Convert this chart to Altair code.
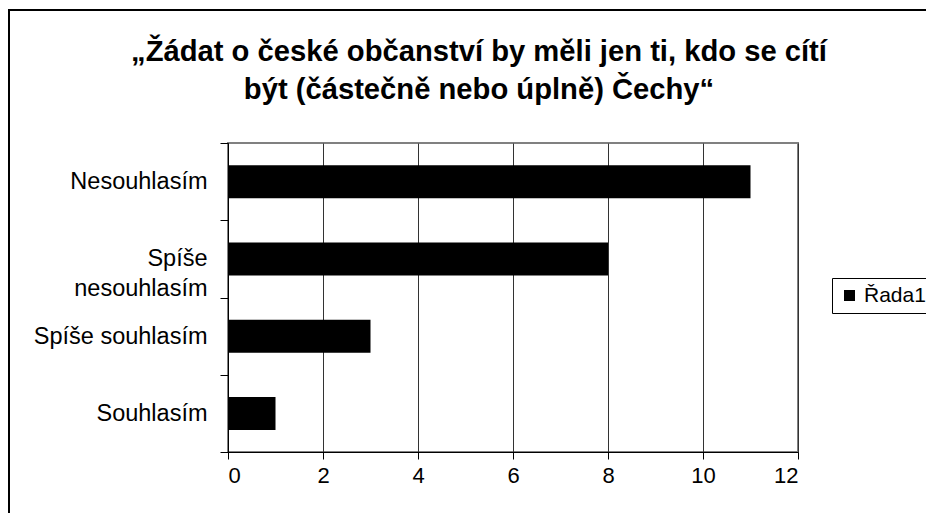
import altair as alt
import pandas as pd

# ---- data ----
categories = ["Nesouhlasím", "Spíše nesouhlasím", "Spíše souhlasím", "Souhlasím"]
values = [11, 8, 3, 1]
series_name = "Řada1"
x_ticks = [0, 2, 4, 6, 8, 10, 12]
title_lines = [
    "„Žádat o české občanství by měli jen ti, kdo se cítí",
    "být (částečně nebo úplně) Čechy“",
]

df = pd.DataFrame({
    "kategorie": categories,
    "hodnota": values,
    "rada": [series_name] * len(categories),
})

FONT = "Liberation Sans"
nb = "\u00a0" * 6
label_expr = (
    "datum.value == 'Spíše nesouhlasím' ? ['Spíše" + nb + "', 'nesouhlasím'] : datum.label"
)

PLOT_W, PLOT_H = 570, 309

# outer chart frame (decoration)
border = alt.Chart(pd.DataFrame({"a": [0]})).mark_rect(
    fill="transparent", stroke="black", strokeWidth=2, clip=False
).encode(
    x=alt.value(-219), x2=alt.value(1200), y=alt.value(-133), y2=alt.value(1200)
)

bars = alt.Chart(df).mark_bar(color="black", size=33).encode(
    y=alt.Y(
        "kategorie:N",
        sort=categories,
        title=None,
        scale=alt.Scale(paddingInner=0, paddingOuter=0),
        axis=alt.Axis(
            labelExpr=label_expr,
            tickBand="extent",
            labelFontSize=23.5,
            labelFont=FONT,
            labelColor="black",
            labelPadding=13,
            tickSize=8,
            tickColor="black",
            domainColor="black",
            grid=False,
            labelLineHeight=30,
            labelLimit=400,
        ),
    ),
    x=alt.X(
        "hodnota:Q",
        title=None,
        scale=alt.Scale(domain=[0, 12], nice=False),
        axis=alt.Axis(
            values=x_ticks,
            grid=True,
            gridColor="#333333",
            gridWidth=1,
            labelFontSize=22,
            labelFont=FONT,
            labelColor="black",
            labelPadding=6,
            tickSize=7,
            tickColor="black",
            domainColor="black",
        ),
    ),
    color=alt.Color(
        "rada:N",
        scale=alt.Scale(range=["black"]),
        legend=alt.Legend(
            title=None,
            orient="none",
            legendX=604,
            legendY=135,
            symbolType="square",
            symbolSize=121,
            symbolStrokeWidth=0,
            labelFontSize=21,
            labelFont=FONT,
            labelColor="black",
            labelOffset=4,
            strokeColor="black",
            fillColor="white",
            padding=7,
        ),
    ),
)

chart = alt.layer(border, bars).properties(
    width=PLOT_W,
    height=PLOT_H,
    padding={"left": 220, "top": 135, "right": 128, "bottom": 61},
    autosize=alt.AutoSizeParams(type="none"),
    title=alt.TitleParams(
        text=title_lines,
        font=FONT,
        fontSize=29.2,
        fontWeight="bold",
        color="black",
        anchor="middle",
        baseline="alphabetic",
        dx=-34,
        offset=-119,
        lineHeight=38,
    ),
).configure_view(stroke="#808080", strokeWidth=2)

chart.save("out.html", embed_options={"renderer": "svg", "actions": False})
